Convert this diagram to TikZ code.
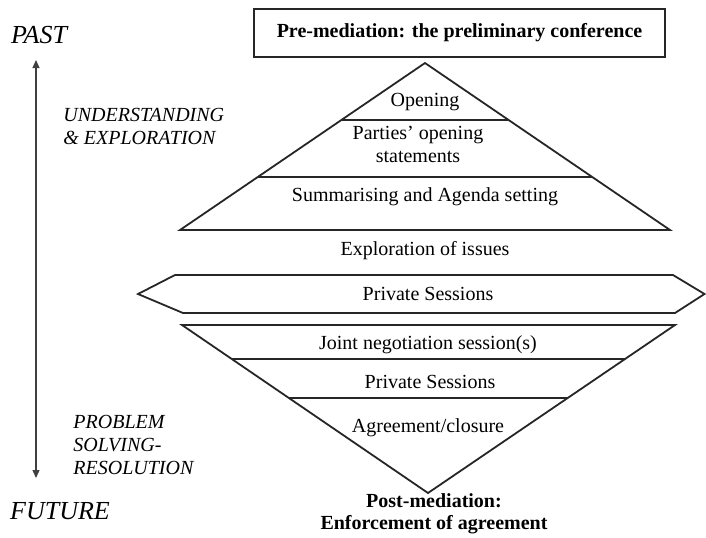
\documentclass[tikz,border=0pt]{standalone}
\usepackage{fontspec}
\setmainfont{Liberation Serif}[
  ItalicFont={Liberation Serif Italic},
  BoldFont={Liberation Serif Bold}]
\usetikzlibrary{arrows.meta,positioning,calc}

\begin{document}
\begin{tikzpicture}[x=0.5pt, y=-0.5pt,
    txt/.style={inner sep=0pt, align=center, font=\fontsize{10}{11.5}\selectfont},
    boldtxt/.style={txt, font=\fontsize{10}{11.5}\selectfont\bfseries},
    side/.style={inner sep=0pt, align=left, anchor=west, font=\fontsize{10}{11.5}\selectfont\itshape},
    era/.style={inner sep=0pt, font=\fontsize{13}{15}\selectfont\itshape},
    outline/.style={draw=black!85, line width=0.9pt, line join=miter},
    stage/.style={boldtxt, outline, minimum width=205.5pt, minimum height=24pt},
    arr/.style={{Triangle[length=4pt,width=3.5pt]}-{Triangle[length=4pt,width=3.5pt]}, black!75, line width=0.6pt}]
\useasboundingbox (0,0) rectangle (706,537);

% time axis
\node[era] (past) at (39,35) {PAST};
\node[era] (future) at (60,511) {FUTURE};
\coordinate (tup) at (36,60);
\coordinate (tdown) at (36,478);
\draw[arr] (tup) -- (tdown);
\node[side] (underst) at (63,126) {UNDERSTANDING\\\& EXPLORATION};
\node[side] (problem) at (73,445) {PROBLEM\\SOLVING-\\RESOLUTION};

% pre-mediation
\node[stage] (pre) at (459.5,33) {Pre-mediation: the preliminary conference};

% upper triangle
\coordinate (apex) at (425,63);
\coordinate (bl) at (180,230);
\coordinate (br) at (670,230);
\draw[outline] (apex) -- (br) -- (bl) -- cycle;
\draw[outline] ($(apex)!0.341!(bl)$) -- ($(apex)!0.341!(br)$);
\draw[outline] ($(apex)!0.683!(bl)$) -- ($(apex)!0.683!(br)$);
\node[txt] (open) at (425,102) {Opening};
\node[txt] (parties) at (418,144) {Parties' opening\\statements};
\node[txt] (summ) at (425,197) {Summarising and Agenda setting};
\node[txt] (explore) at (425,251) {Exploration of issues};

% private sessions band
\draw[outline] (138,294) -- (175,275) -- (673,275) -- (704.5,294) -- (675,313) -- (183,313) -- cycle;
\node[txt] (priv) at (428,294) {Private Sessions};

% lower triangle
\coordinate (tl) at (182,325);
\coordinate (tr) at (675,325);
\coordinate (bottom) at (428,493);
\draw[outline] (tl) -- (tr) -- (bottom) -- cycle;
\draw[outline] ($(tl)!0.202!(bottom)$) -- ($(tr)!0.202!(bottom)$);
\draw[outline] ($(tl)!0.435!(bottom)$) -- ($(tr)!0.435!(bottom)$);
\node[txt] (joint) at (428,345) {Joint negotiation session(s)};
\node[txt] (priv2) at (430,382) {Private Sessions};
\node[txt] (agree) at (428,428) {Agreement/closure};
\node[boldtxt, font=\fontsize{10}{11}\selectfont\bfseries] (post) at (434,514) {Post-mediation:\\Enforcement of agreement};
\end{tikzpicture}
\end{document}
